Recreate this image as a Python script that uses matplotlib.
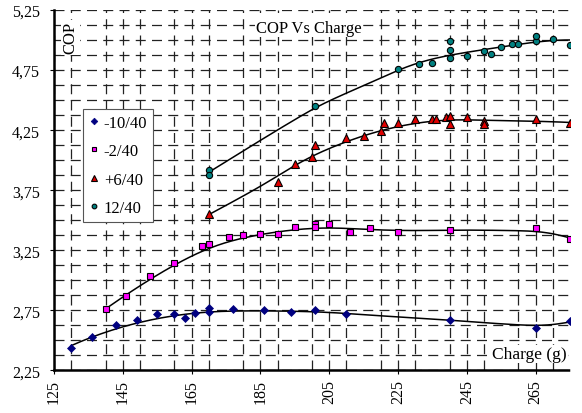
import numpy as np
import matplotlib
matplotlib.use("Agg")
import matplotlib.pyplot as plt
from matplotlib.ticker import MultipleLocator, FuncFormatter

plt.rcParams['font.family'] = ['Liberation Serif', 'DejaVu Serif']

# Refrigerant charge (g) and measured COP for each evaporating/condensing condition
m10_charge = [130, 136, 143, 149, 155, 160, 163, 166, 170, 170, 177, 186, 194, 201, 210, 240, 265, 275]
m10_cop = [2.44, 2.53, 2.63, 2.67, 2.72, 2.72, 2.685, 2.73, 2.77, 2.74, 2.76, 2.75, 2.74, 2.75, 2.72, 2.67, 2.60, 2.66]

m2_charge = [140, 146, 153, 160, 168, 170, 176, 180, 185, 190, 195, 201, 201, 205, 211, 217, 225, 240, 265, 275]
m2_cop = [2.76, 2.87, 3.035, 3.146, 3.29, 3.30, 3.357, 3.38, 3.39, 3.39, 3.446, 3.468, 3.446, 3.468, 3.40, 3.435, 3.40, 3.42, 3.435, 3.346]

p6_charge = [170, 190, 195, 200, 201, 210, 215, 220, 221, 225, 230, 235, 236, 239, 240, 240, 245, 250, 250, 265, 275]
p6_cop = [3.55, 3.82, 3.97, 4.03, 4.13, 4.185, 4.20, 4.24, 4.31, 4.307, 4.34, 4.34, 4.34, 4.36, 4.37, 4.30, 4.36, 4.33, 4.30, 4.34, 4.307]

p12_charge = [170, 170, 201, 225, 231, 235, 240, 240, 240, 245, 250, 252, 255, 258, 260, 265, 265, 270, 275]
p12_cop = [3.92, 3.88, 4.45, 4.76, 4.80, 4.81, 4.85, 4.92, 4.99, 4.87, 4.91, 4.88, 4.945, 4.97, 4.97, 4.99, 5.03, 5.01, 4.96]

series_labels = ['-10/40', '-2/40', '+6/40', '12/40']
x_ticks = [125, 145, 165, 185, 205, 225, 245, 265]
y_ticks = [2.25, 2.75, 3.25, 3.75, 4.25, 4.75, 5.25]


def local_linear(xs, ys, xx, bw):
    """Gaussian-weighted local linear regression evaluated at xx."""
    out = np.empty_like(xx)
    for i, x0 in enumerate(xx):
        w = np.exp(-0.5 * ((xs - x0) / bw) ** 2)
        W = w.sum()
        xm = (w * xs).sum() / W
        ym = (w * ys).sum() / W
        sxx = (w * (xs - xm) ** 2).sum()
        b = (w * (xs - xm) * (ys - ym)).sum() / sxx if sxx > 1e-9 else 0.0
        out[i] = ym + b * (x0 - xm)
    return out


fig = plt.figure(figsize=(5.82, 4.14), dpi=100)
ax = fig.add_axes([0.0928, 0.1027, 0.8866, 0.8707])

styles = [
    dict(marker='D', color='#000080', mec='#000080', ms=4.5, mew=0.5),
    dict(marker='s', color='#ff00ff', mec='black', ms=4.5, mew=0.8),
    dict(marker='^', color='#e00000', mec='black', ms=5.5, mew=0.8),
    dict(marker='o', color='#008080', mec='black', ms=4.5, mew=0.8),
]
data = [(m10_charge, m10_cop), (m2_charge, m2_cop), (p6_charge, p6_cop), (p12_charge, p12_cop)]

handles = []
for (xs, ys), st, lab in zip(data, styles, series_labels):
    xs = np.asarray(xs, float)
    ys = np.asarray(ys, float)
    xx = np.linspace(xs.min(), xs.max(), 200)
    ax.plot(xx, local_linear(xs, ys, xx, 12.0), color='black', lw=1.1, zorder=3)
    h, = ax.plot(xs, ys, linestyle='none', marker=st['marker'], markerfacecolor=st['color'],
                 markeredgecolor=st['mec'], markersize=st['ms'], markeredgewidth=st['mew'],
                 zorder=4, label=lab)
    handles.append(h)

ax.set_xlim(125, 275)
ax.set_ylim(2.25, 5.25)
ax.set_xticks(x_ticks)
ax.xaxis.set_minor_locator(MultipleLocator(10))
ax.set_yticks(y_ticks)
ax.yaxis.set_minor_locator(MultipleLocator(0.125))
ax.yaxis.set_major_formatter(FuncFormatter(lambda v, p: f"{v:.2f}".replace('.', ',')))
ax.xaxis.set_major_formatter(FuncFormatter(lambda v, p: f"{int(round(v))}"))
plt.setp(ax.get_xticklabels(), rotation=90)

ax.tick_params(axis='both', which='major', labelsize=11.5, colors='black', direction='out', width=0.8)
ax.tick_params(axis='x', which='major', length=3, pad=3)
ax.tick_params(axis='y', which='major', length=3, pad=7)
ax.tick_params(axis='both', which='minor', length=0)

ax.grid(True, which='both', linestyle=(0, (8, 5)), color='#222222', linewidth=0.9)
ax.set_axisbelow(True)

for s in ['top', 'right']:
    ax.spines[s].set_visible(False)
for s in ['left', 'bottom']:
    ax.spines[s].set_linestyle((0, (1.2, 1.0)))
    ax.spines[s].set_linewidth(1.8)
    ax.spines[s].set_color('black')

txt_box = dict(facecolor='white', edgecolor='none', pad=1.0)
ax.text(0.494, 0.951, 'COP Vs Charge', transform=ax.transAxes, ha='center', va='center',
        fontsize=12, bbox=txt_box, zorder=6)
ax.text(0.032, 0.924, 'COP', transform=ax.transAxes, rotation=90, ha='center', va='center',
        fontsize=12, bbox=txt_box, zorder=6)
ax.text(0.994, 0.046, 'Charge (g)', transform=ax.transAxes, ha='right', va='center',
        fontsize=12.5, bbox=txt_box, zorder=6)

leg = ax.legend(handles=handles, loc='upper left', bbox_to_anchor=(0.056, 0.726), fontsize=12,
                frameon=True, fancybox=False, framealpha=1, edgecolor='#555555',
                handlelength=0.6, handletextpad=0.3, labelspacing=0.75, borderpad=0.35,
                borderaxespad=0, markerscale=0.75)
leg.get_frame().set_linewidth(0.8)
leg.set_zorder(5)

fig.savefig('out.png', dpi=100, facecolor='white')
